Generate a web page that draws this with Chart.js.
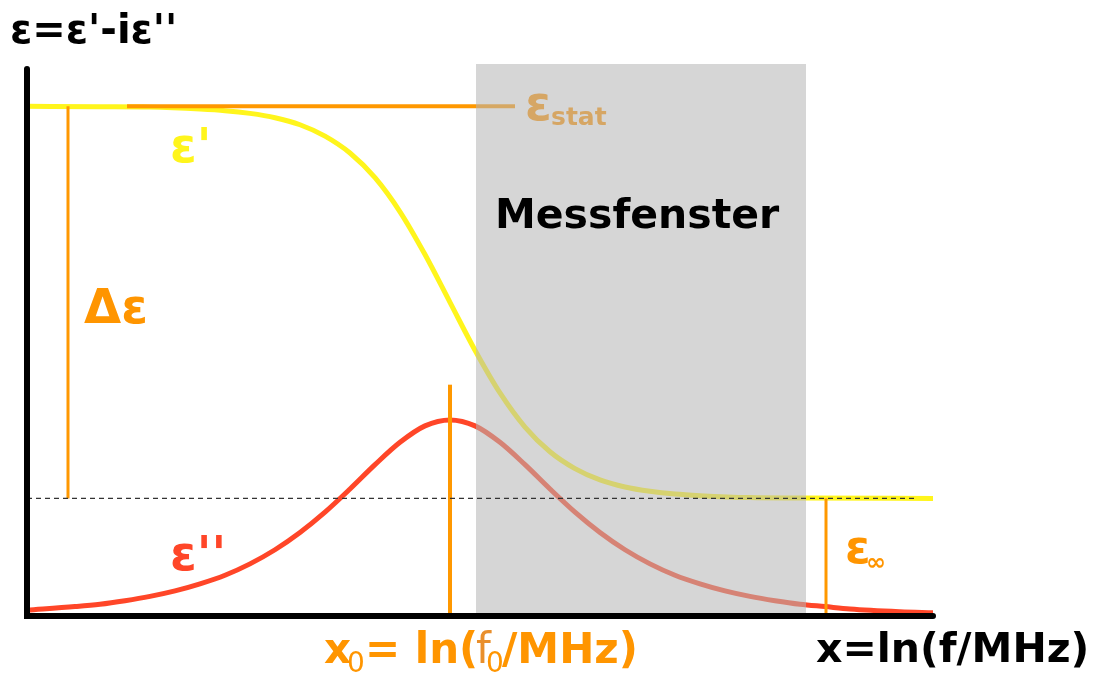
<!DOCTYPE html>
<html>
<head>
<meta charset="utf-8">
<title>Dielektrische Relaxation</title>
<script src="https://cdn.jsdelivr.net/npm/chart.js@4/dist/chart.umd.min.js"></script>
<style>
  html, body { margin: 0; padding: 0; background: #fff; }
  #wrap { width: 1096px; height: 673px; }
</style>
</head>
<body>
<div id="wrap"><canvas id="relaxChart" width="1096" height="673"></canvas></div>
<script>
// x = ln(f/MHz), shifted so that the relaxation frequency sits at x0 = 0
const realX = [-4.23, -3.5, -3.0, -2.5, -2.25, -2.0, -1.75, -1.5, -1.25, -1.0, -0.75, -0.5, -0.25, 0,
  0.25, 0.5, 0.75, 1.0, 1.25, 1.5, 1.75, 2.0, 2.25, 2.5, 3.0, 3.5, 4.83];
const realEps = [13.0, 12.99, 12.98, 12.93, 12.89, 12.82, 12.71, 12.53, 12.24, 11.81, 11.18, 10.31, 9.22, 8.0,
  6.78, 5.69, 4.82, 4.19, 3.76, 3.47, 3.29, 3.18, 3.11, 3.07, 3.02, 3.01, 3.0];

const lossX = [-4.23, -3.75, -3.5, -3.25, -3.0, -2.75, -2.5, -2.25, -2.0, -1.75, -1.5, -1.25, -1.0, -0.75, -0.5, -0.25, 0,
  0.25, 0.5, 0.75, 1.0, 1.25, 1.5, 1.75, 2.0, 2.25, 2.5, 2.75, 3.0, 3.25, 3.5, 3.75, 4.0, 4.5, 4.83];
const lossEps = [0.15, 0.24, 0.30, 0.39, 0.50, 0.64, 0.82, 1.04, 1.33, 1.69, 2.13, 2.65, 3.24, 3.86, 4.43, 4.85, 5.0,
  4.85, 4.43, 3.86, 3.24, 2.65, 2.13, 1.69, 1.33, 1.04, 0.82, 0.64, 0.50, 0.39, 0.30, 0.24, 0.18, 0.11, 0.08];

const epsStat = 13;
const epsInf = 3;
const x0 = 0;
const x0MarkTop = 5.9;
const xRange = [-4.23, 4.83];
const yRange = [0, 14.08];
const windowX = [0.26, 3.56];   // Messfenster
const statLineX = [-3.23, 0.65];
const deltaMarkX = -3.82;
const infMarkX = 3.76;
const infDashEnd = 4.68;

const FONT = '"DejaVu Sans", "Liberation Sans", sans-serif';
const ORANGE = '#ff9800';
const ORANGE_TEXT = '#ff9500';
const YELLOW = '#fff51c';
const RED = '#ff4628';

function pts(xs, ys) {
  return xs.map((x, i) => ({ x, y: ys[i] }));
}

function segment(xa, ya, xb, yb, color, width, extra = {}) {
  return {
    data: [{ x: xa, y: ya }, { x: xb, y: yb }],
    borderColor: color,
    borderWidth: width,
    pointRadius: 0,
    fill: false,
    order: 2,
    ...extra,
  };
}

function txt(ctx, s, x, y, size, color, weight = 'bold') {
  ctx.font = `${weight} ${size}px ${FONT}`;
  ctx.fillStyle = color;
  ctx.textAlign = 'left';
  ctx.textBaseline = 'alphabetic';
  ctx.fillText(s, x, y);
}

// label behind the translucent window
const underLabels = {
  id: 'underLabels',
  beforeDatasetsDraw(chart) {
    const ctx = chart.ctx;
    ctx.save();
    txt(ctx, 'ε', 525, 120, 48, ORANGE_TEXT);
    txt(ctx, 'stat', 551, 125, 25, ORANGE_TEXT);
    ctx.restore();
  },
};

const axesAndLabels = {
  id: 'axesAndLabels',
  afterDatasetsDraw(chart) {
    const ctx = chart.ctx;
    const { left, right, top, bottom } = chart.chartArea;
    ctx.save();
    ctx.strokeStyle = '#000';
    ctx.lineWidth = 6;
    ctx.lineCap = 'round';
    ctx.beginPath();
    ctx.moveTo(left, top + 5);
    ctx.lineTo(left, bottom);
    ctx.lineTo(right, bottom);
    ctx.stroke();

    txt(ctx, "ε=ε'-iε''", 10, 43, 40, '#000');
    txt(ctx, "ε'", 170, 162, 48, YELLOW);
    txt(ctx, 'Δε', 84, 323, 48, ORANGE_TEXT);
    txt(ctx, "ε''", 170, 570, 48, RED);
    txt(ctx, 'Messfenster', 495, 228, 41, '#000');
    txt(ctx, 'ε', 845, 563, 46, ORANGE_TEXT);
    txt(ctx, '∞', 866, 570, 24, ORANGE_TEXT);

    txt(ctx, 'x', 324, 663, 42, ORANGE_TEXT);
    txt(ctx, '0', 347, 672, 28, ORANGE_TEXT, 'normal');
    txt(ctx, '= ln(', 365, 663, 42, ORANGE_TEXT);
    txt(ctx, 'f', 476, 663, 42, '#e98f2c', 'normal');
    txt(ctx, '0', 486, 672, 28, ORANGE_TEXT, 'normal');
    txt(ctx, '/MHz)', 502, 663, 42, ORANGE_TEXT);

    txt(ctx, 'x=ln(f/MHz)', 816, 662, 41, '#000');
    ctx.restore();
  },
};

const datasets = [
  {
    label: 'eps_inf_ref',
    data: [{ x: xRange[0], y: epsInf }, { x: infDashEnd, y: epsInf }],
    borderColor: '#333',
    borderWidth: 1.2,
    borderDash: [5, 4],
    pointRadius: 0,
    fill: false,
    order: 0,
  },
  {
    label: 'Messfenster',
    data: [{ x: windowX[0], y: yRange[1] }, { x: windowX[1], y: yRange[1] }],
    borderWidth: 0,
    pointRadius: 0,
    backgroundColor: 'rgba(181,181,181,0.553)',
    fill: 'origin',
    order: 1,
  },
  segment(statLineX[0], epsStat, statLineX[1], epsStat, ORANGE, 4),
  segment(deltaMarkX, epsInf, deltaMarkX, epsStat, ORANGE, 3),
  segment(x0, 0, x0, x0MarkTop, ORANGE, 4),
  segment(infMarkX, 0, infMarkX, epsInf, ORANGE, 3),
  {
    label: "ε'",
    data: pts(realX, realEps),
    borderColor: YELLOW,
    borderWidth: 5,
    pointRadius: 0,
    cubicInterpolationMode: 'monotone',
    fill: false,
    order: 3,
  },
  {
    label: "ε''",
    data: pts(lossX, lossEps),
    borderColor: RED,
    borderWidth: 5,
    pointRadius: 0,
    cubicInterpolationMode: 'monotone',
    fill: false,
    order: 4,
  },
];

new Chart(document.getElementById('relaxChart'), {
  type: 'line',
  data: { datasets },
  options: {
    responsive: false,
    devicePixelRatio: 1,
    animation: false,
    layout: { padding: { left: 27, right: 163, top: 64, bottom: 57 } },
    plugins: { legend: { display: false }, tooltip: { enabled: false } },
    scales: {
      x: { type: 'linear', min: xRange[0], max: xRange[1], display: false },
      y: { type: 'linear', min: yRange[0], max: yRange[1], display: false },
    },
  },
  plugins: [underLabels, axesAndLabels],
});
</script>
</body>
</html>
